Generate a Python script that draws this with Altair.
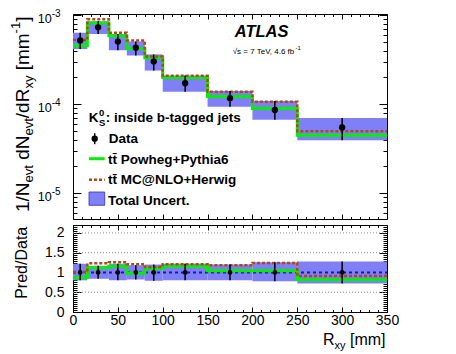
import altair as alt
import pandas as pd

FONT = "Liberation Sans"

# ---------------- data ----------------
bin_lo = [0, 16, 40, 60, 80, 100, 150, 200, 250]
bin_hi = [16, 40, 60, 80, 100, 150, 200, 250, 350]
bin_center = [8, 28, 50, 70, 90, 125, 175, 225, 300]
data_vals = [5.2e-4, 7.3e-4, 5.05e-4, 4.3e-4, 3.02e-4, 1.72e-4, 1.17e-4, 8.6e-5, 5.47e-5]
unc_up = [1.22, 1.17, 1.22, 1.18, 1.20, 1.22, 1.20, 1.26, 1.28]
unc_dn = [0.80, 0.84, 0.80, 0.82, 0.79, 0.80, 0.80, 0.78, 0.72]
ratio_powheg = [0.87, 1.12, 1.16, 0.98, 1.10, 1.16, 1.04, 1.04, 0.82]
ratio_mcnlo = [1.01, 1.23, 1.26, 1.21, 1.14, 1.21, 1.18, 1.24, 0.91]

x_ticks = list(range(0, 351, 10))
log_major = [1e-3, 1e-4, 1e-5]
log_exp_labels = ["-3", "-4", "-5"]
log_ticks = [m * 10.0 ** e for e in (-6, -5, -4, -3) for m in range(1, 10)
             if 5.14e-6 <= m * 10.0 ** e <= 1.03e-3]
ratio_ticks = [round(0.05 * i, 2) for i in range(45)]
ratio_grid = [0.5, 1.0, 1.5, 2.0]

# ---------------- tables ----------------
bins = pd.DataFrame({
    "lo": bin_lo, "hi": bin_hi, "c": bin_center, "data": data_vals,
    "up": [d * u for d, u in zip(data_vals, unc_up)],
    "dn": [d * u for d, u in zip(data_vals, unc_dn)],
    "r_up": unc_up, "r_dn": unc_dn, "one": [1.0] * len(data_vals),
})
steps = pd.DataFrame({
    "x": bin_lo + [bin_hi[-1]],
    "powheg": [d * r for d, r in zip(data_vals, ratio_powheg)] + [data_vals[-1] * ratio_powheg[-1]],
    "mcnlo": [d * r for d, r in zip(data_vals, ratio_mcnlo)] + [data_vals[-1] * ratio_mcnlo[-1]],
    "r_powheg": ratio_powheg + [ratio_powheg[-1]],
    "r_mcnlo": ratio_mcnlo + [ratio_mcnlo[-1]],
    "one": [1.0] * (len(bin_lo) + 1),
})
log_lab = pd.DataFrame({"v": log_major, "sup": log_exp_labels})
grid_df = pd.DataFrame({"g": ratio_grid})

# ---------------- style ----------------
W, H1, H2 = 314, 205, 87
BAND = "#8080f6"
GREEN = "#00f000"
RED = "#b0461a"
BLUE = "#1010e0"

xs = alt.Scale(domain=[0, 350], nice=False, zero=False)
ys_top = alt.Scale(type="log", domain=[5.14e-6, 1.03e-3], nice=False)
ys_bot = alt.Scale(domain=[0, 2.2], nice=False, zero=False)

X_MAJOR = "datum.value % 50 === 0"
LOG_MAJOR = "abs(log(datum.value)/LN10 - round(log(datum.value)/LN10)) < 0.001"
R_MAJOR = "abs(datum.value*2 - round(datum.value*2)) < 0.001"

AR = {' ': 278, '/': 278, '1': 556, 'N': 722, 'd': 556, 'R': 722, 'e': 556, 'v': 500,
      't': 278, 'x': 500, 'y': 500, '[': 278, ']': 278, 'm': 833, '-': 333}
AB = {'K': 722, 'S': 667, '0': 556}


def tw(s, size, table):
    return sum(table.get(ch, 556) for ch in s) * size / 1000.0


def tick_axis(orient, values, test, major, minor, **kw):
    d = dict(orient=orient, values=values, title=None, grid=False, domain=True,
             domainColor="black", domainWidth=1, ticks=True, tickColor="black", tickWidth=1,
             tickSize={"condition": {"test": test, "value": -major}, "value": -minor},
             labels=False)
    d.update(kw)
    return alt.Axis(**d)


def txt(s, x, y, size, weight="normal", style="normal", angle=0, align="left",
        baseline="alphabetic", color="black"):
    return alt.Chart(pd.DataFrame({"t": [s]})).mark_text(
        font=FONT, fontSize=size, fontWeight=weight, fontStyle=style, angle=angle,
        align=align, baseline=baseline, color=color
    ).encode(text="t:N", x=alt.value(x), y=alt.value(y))


# ---------------- top panel ----------------
top_layers = []
top_layers.append(alt.Chart(bins).mark_rect(color=BAND).encode(
    x=alt.X("lo:Q", scale=xs, axis=tick_axis("bottom", x_ticks, X_MAJOR, 5, 2.5)),
    x2="hi:Q",
    y=alt.Y("dn:Q", scale=ys_top, axis=tick_axis("left", log_ticks, LOG_MAJOR, 8, 4)),
    y2="up:Q"))
top_layers.append(alt.Chart(steps).mark_line(interpolate="step-after", color=GREEN, strokeWidth=3).encode(
    x=alt.X("x:Q", scale=xs, axis=tick_axis("top", x_ticks, X_MAJOR, 5, 2.5)),
    y=alt.Y("powheg:Q", scale=ys_top, axis=tick_axis("right", log_ticks, LOG_MAJOR, 8, 4))))
top_layers.append(alt.Chart(steps).mark_line(interpolate="step-after", color=RED, strokeWidth=2.5,
                                             strokeDash=[3, 2]).encode(
    x=alt.X("x:Q", scale=xs, axis=None), y=alt.Y("mcnlo:Q", scale=ys_top, axis=None)))
top_layers.append(alt.Chart(bins).mark_rule(color="black", strokeWidth=1.5).encode(
    x=alt.X("c:Q", scale=xs, axis=None), y=alt.Y("dn:Q", scale=ys_top, axis=None), y2="up:Q"))
top_layers.append(alt.Chart(bins).mark_circle(color="black", opacity=1, size=40).encode(
    x=alt.X("c:Q", scale=xs, axis=None), y=alt.Y("data:Q", scale=ys_top, axis=None)))
# log axis labels 10^n
top_layers.append(alt.Chart(log_lab).mark_text(font=FONT, fontSize=12.6, align="right", baseline="alphabetic",
                                               dy=7.5, color="black").encode(
    y=alt.Y("v:Q", scale=ys_top, axis=None), x=alt.value(-21.3), text=alt.value("10")))
top_layers.append(alt.Chart(log_lab).mark_text(font=FONT, fontSize=10, align="left", baseline="alphabetic",
                                               dy=1.5, color="black").encode(
    y=alt.Y("v:Q", scale=ys_top, axis=None), x=alt.value(-21.3), text="sup:N"))

# y title with sub/superscripts (rotated)
yx0, ypos = -44.0, 198.0
for s, size, shift in [("1/N", 19, 0), ("evt", 13, 3.5), (" dN", 19, 0), ("evt", 13, 3.5),
                       ("/dR", 19, 0), ("xy", 13, 3.5), (" [mm", 19, 0), ("-1", 13, -9.3), ("]", 19, 0)]:
    if s.startswith(" "):
        ypos -= tw(" ", size, AR)
        s = s[1:]
    top_layers.append(txt(s, yx0 + shift, ypos, size, angle=270))
    ypos -= tw(s, size, AR)

# ATLAS label
top_layers.append(txt("ATLAS", 161.7, 23, 16.5, weight="bold", style="italic"))
top_layers.append(txt("\u221as = 7 TeV, 4.6 fb", 159.7, 39.5, 8))
top_layers.append(txt("-1", 222.5, 35.5, 6))

# legend
LS = 13.5
kx = 15.7
top_layers.append(txt("K", kx, 108, LS, weight="bold"))
kx2 = kx + tw("K", LS, AB) + 0.6
top_layers.append(txt("0", kx2, 101.5, 9.5, weight="bold"))
top_layers.append(txt("S", kx2, 112.2, 9.5, weight="bold"))
top_layers.append(txt(": inside b-tagged jets", kx2 + tw("S", 9.5, AB) + 0.3, 108, LS, weight="bold"))

one_row = pd.DataFrame({"a": [0]})
top_layers.append(alt.Chart(one_row).mark_rule(color="black", strokeWidth=1.5).encode(
    x=alt.value(21.7), y=alt.value(119.2), y2=alt.value(130.2)))
top_layers.append(alt.Chart(one_row).mark_circle(color="black", opacity=1, size=40).encode(
    x=alt.value(21.7), y=alt.value(124.7)))
top_layers.append(txt("Data", 35.7, 129, LS, weight="bold"))

top_layers.append(alt.Chart(one_row).mark_rule(color=GREEN, strokeWidth=3).encode(
    x=alt.value(16), x2=alt.value(31.7), y=alt.value(144.7)))
top_layers.append(txt("tt\u0304 Powheg+Pythia6", 35, 149.5, LS, weight="bold"))

top_layers.append(alt.Chart(one_row).mark_rule(color=RED, strokeWidth=2.5, strokeDash=[3, 2]).encode(
    x=alt.value(16), x2=alt.value(31.7), y=alt.value(165.7)))
top_layers.append(txt("tt\u0304 MC@NLO+Herwig", 35, 170, LS, weight="bold"))

top_layers.append(alt.Chart(one_row).mark_rect(color=BAND, stroke="#3030c0", strokeWidth=0.8).encode(
    x=alt.value(16), x2=alt.value(31.7), y=alt.value(178), y2=alt.value(191.3)))
top_layers.append(txt("Total Uncert.", 35, 190.5, LS, weight="bold"))

top = alt.layer(*top_layers).resolve_axis(x="independent", y="independent").properties(width=W, height=H1)

# ---------------- ratio panel ----------------
bot_layers = []
bot_layers.append(alt.Chart(bins).mark_rect(color=BAND).encode(
    x=alt.X("lo:Q", scale=xs, axis=tick_axis(
        "bottom", x_ticks, X_MAJOR, 5, 2.5, labels=True,
        labelExpr=f"{X_MAJOR} ? datum.label : ''", labelFont=FONT, labelFontSize=14,
        labelColor="black", labelPadding=6.5, labelOverlap=False, labelFlush=False)),
    x2="hi:Q",
    y=alt.Y("r_dn:Q", scale=ys_bot, axis=tick_axis(
        "left", ratio_ticks, R_MAJOR, 8, 4, labels=True,
        labelExpr=f"{R_MAJOR} ? format(datum.value, '~g') : ''", labelFont=FONT, labelFontSize=14,
        labelColor="black", labelPadding=17, labelOverlap=False, labelFlush=False,
        title="Pred/Data", titleFont=FONT, titleFontSize=16, titleFontWeight="normal",
        titleColor="black", titleAngle=270, titleX=-46.6, titleY=37.3, titleBaseline="alphabetic",
        titleAlign="center")),
    y2="r_up:Q"))
bot_layers.append(alt.Chart(grid_df).mark_rule(color="#8a8a8a", strokeWidth=1, strokeDash=[1, 2]).encode(
    y=alt.Y("g:Q", scale=ys_bot, axis=None), x=alt.value(0), x2=alt.value(W)))
bot_layers.append(alt.Chart(steps).mark_line(interpolate="step-after", color=BLUE, strokeWidth=2,
                                             strokeDash=[3, 3]).encode(
    x=alt.X("x:Q", scale=xs, axis=tick_axis("top", x_ticks, X_MAJOR, 5, 2.5)),
    y=alt.Y("one:Q", scale=ys_bot, axis=tick_axis("right", ratio_ticks, R_MAJOR, 8, 4))))
bot_layers.append(alt.Chart(steps).mark_line(interpolate="step-after", color=GREEN, strokeWidth=3).encode(
    x=alt.X("x:Q", scale=xs, axis=None), y=alt.Y("r_powheg:Q", scale=ys_bot, axis=None)))
bot_layers.append(alt.Chart(steps).mark_line(interpolate="step-after", color=RED, strokeWidth=2.5,
                                             strokeDash=[3, 2]).encode(
    x=alt.X("x:Q", scale=xs, axis=None), y=alt.Y("r_mcnlo:Q", scale=ys_bot, axis=None)))
bot_layers.append(alt.Chart(bins).mark_rule(color="black", strokeWidth=1.5).encode(
    x=alt.X("c:Q", scale=xs, axis=None), y=alt.Y("r_dn:Q", scale=ys_bot, axis=None), y2="r_up:Q"))
bot_layers.append(alt.Chart(bins).mark_circle(color="black", opacity=1, size=22).encode(
    x=alt.X("c:Q", scale=xs, axis=None), y=alt.Y("one:Q", scale=ys_bot, axis=None)))

# x title R_xy [mm]
bx = 250.0
bot_layers.append(txt("R", bx, 120, 16))
bx += tw("R", 16, AR)
bot_layers.append(txt("xy", bx, 124, 11))
bx += tw("xy", 11, AR) + tw(" ", 16, AR)
bot_layers.append(txt("[mm]", bx, 120, 16))

bottom = alt.layer(*bot_layers).resolve_axis(x="independent", y="independent").properties(width=W, height=H2)

chart = alt.vconcat(top, bottom, spacing=6, bounds="flush").properties(
    padding={"left": 1, "top": 0, "right": 0, "bottom": 0}, background="white"
).configure_view(stroke=None)

chart.save("out.html", embed_options={"renderer": "svg", "actions": False})
